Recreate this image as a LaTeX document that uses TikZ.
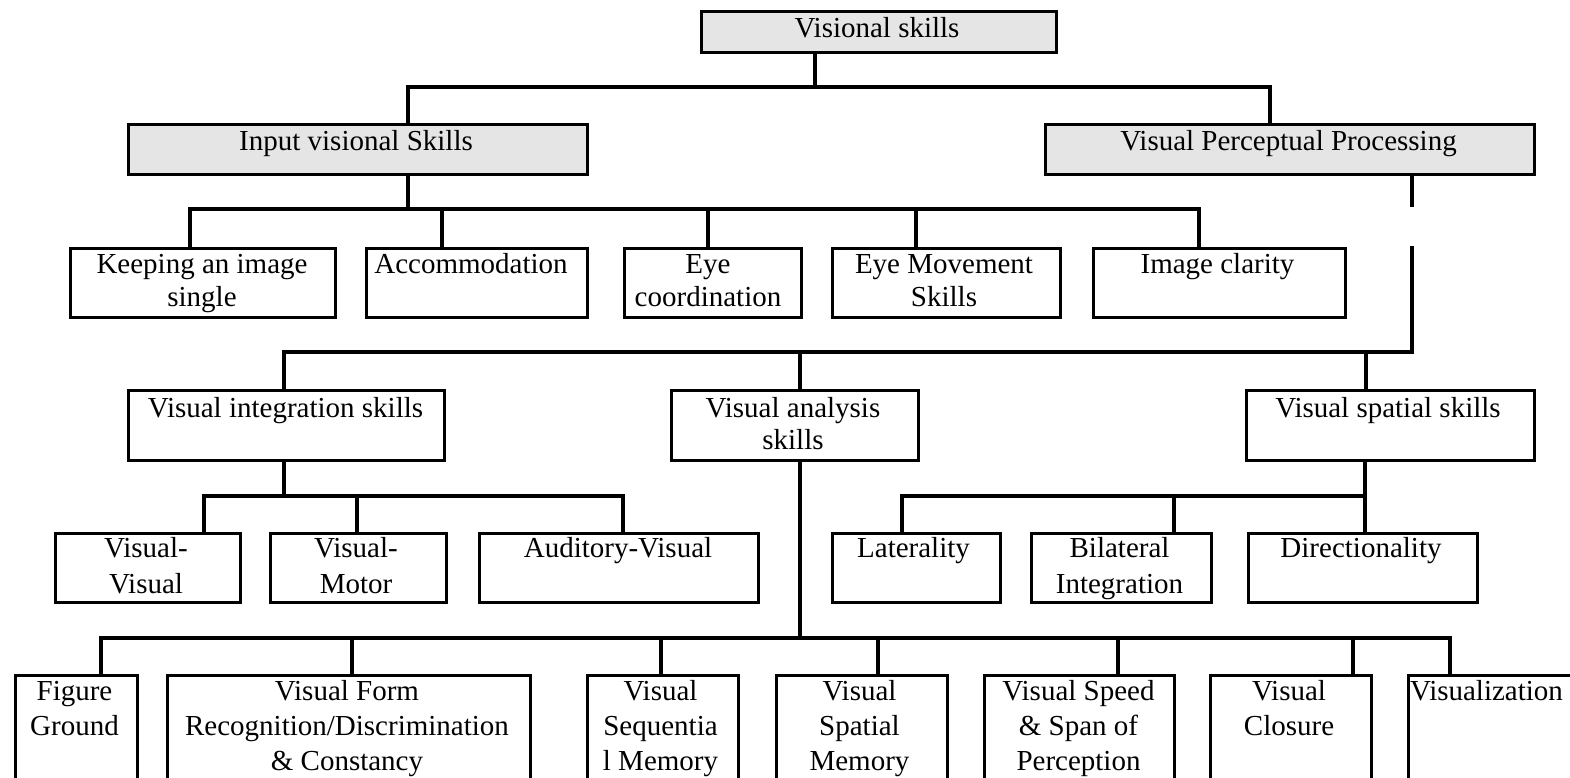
\documentclass[tikz,border=0pt]{standalone}
\usepackage{fontspec}
\setmainfont{Liberation Serif}
\tikzset{
  skbox/.style={draw=black, line width=3.3pt, inner sep=0pt, anchor=north west, rectangle},
  skgray/.style={skbox, fill=black!10},
  lbl/.style={inner sep=0pt, anchor=base},
  conn/.style={line width=3.3pt},
}
\newcommand\skb[6][skbox]{\node[#1, minimum width=#5pt-#3pt, minimum height=#6pt-#4pt] (#2) at (#3,#4) {};}
\newcommand\skt[5]{\node[lbl, font=\fontsize{29}{#4}\selectfont] (#1) at (#2,#3) {\begin{tabular}[t]{@{}c@{}}#5\end{tabular}};}
\begin{document}
\begin{tikzpicture}[x=1pt,y=-1pt]
\useasboundingbox (0,0) rectangle (1570,778);
\clip (0,0) rectangle (1570,778);
\fill[white] (0,0) rectangle (1570,778);

% level 0 and 1
\skb[skgray]{vs}{700}{10}{1055}{51}
\skt{vs-t}{877}{38}{33}{Visional skills}
\skb[skgray]{ivs}{127}{123}{586}{173}
\skt{ivs-t}{356}{151}{33}{Input visional Skills}
\skb[skgray]{vpp}{1044}{123}{1533}{173}
\skt{vpp-t}{1288.5}{151}{33}{Visual Perceptual Processing}

% row 2
\skb{kp}{69}{247}{334}{316}
\skt{kp-t}{202}{273}{33}{Keeping an image\\single}
\skb{acc}{365}{247}{586}{316}
\skt{acc-t}{471}{273}{33}{Accommodation}
\skb{eyc}{623}{247}{800}{316}
\skt{eyc-t}{708}{273}{33}{Eye\\coordination}
\skb{eym}{831}{247}{1059}{316}
\skt{eym-t}{944}{273}{33}{Eye Movement\\Skills}
\skb{icl}{1092}{247}{1344}{316}
\skt{icl-t}{1217.5}{273}{33}{Image clarity}

% row 3
\skb{vint}{127}{389}{443}{459}
\skt{vint-t}{285.5}{417}{32}{Visual integration skills}
\skb{vana}{670}{389}{917}{459}
\skt{vana-t}{793}{417}{32}{Visual analysis\\skills}
\skb{vspa}{1245}{389}{1533}{459}
\skt{vspa-t}{1388}{417}{32}{Visual spatial skills}

% row 4
\skb{vv}{54}{532}{239}{601}
\skt{vv-t}{146}{557}{36}{Visual-\\Visual}
\skb{vm}{269}{532}{445}{601}
\skt{vm-t}{356}{557}{36}{Visual-\\Motor}
\skb{av}{478}{532}{757}{601}
\skt{av-t}{618}{557}{36}{Auditory-Visual}
\skb{lat}{831}{532}{999}{601}
\skt{lat-t}{913.5}{557}{36}{Laterality}
\skb{bil}{1030}{532}{1210}{601}
\skt{bil-t}{1119.5}{557}{36}{Bilateral\\Integration}
\skb{dir}{1247}{532}{1476}{601}
\skt{dir-t}{1361}{557}{36}{Directionality}

% row 5
\skb{fg}{14}{674}{136}{800}
\skt{fg-t}{74.5}{700}{35}{Figure\\Ground}
\skb{vf}{166}{674}{529}{800}
\skt{vf-t}{347}{700}{35}{Visual Form\\Recognition/Discrimination\\\& Constancy}
\skb{vsq}{586}{674}{737}{800}
\skt{vsq-t}{660.5}{700}{35}{Visual\\Sequentia\\l Memory}
\skb{vsm}{775}{674}{946}{800}
\skt{vsm-t}{859.5}{700}{35}{Visual\\Spatial\\Memory}
\skb{vsp}{983}{674}{1173}{800}
\skt{vsp-t}{1078.5}{700}{35}{Visual Speed\\\& Span of\\Perception}
\skb{vcl}{1209}{674}{1370}{800}
\skt{vcl-t}{1289}{700}{35}{Visual\\Closure}
\skb{vz}{1407}{674}{1590}{800}
\skt{vz-t}{1486.5}{700}{35}{Visualization}

% junction coordinates
\coordinate (j0) at (815,87);
\coordinate (j0l) at (408,87);
\coordinate (j0r) at (1270,87);
\coordinate (j1) at (408,209);
\coordinate (j1a) at (190,209);
\coordinate (j1b) at (442,209);
\coordinate (j1c) at (708,209);
\coordinate (j1d) at (916,209);
\coordinate (j1e) at (1199,209);
\coordinate (g1) at (1412,207);
\coordinate (g2) at (1412,246);
\coordinate (j2) at (1412,352);
\coordinate (j2a) at (284,352);
\coordinate (j2b) at (800,352);
\coordinate (j2c) at (1366,352);
\coordinate (j3) at (284,496);
\coordinate (j3a) at (204,496);
\coordinate (j3b) at (357,496);
\coordinate (j3c) at (623,496);
\coordinate (j4) at (1365,496);
\coordinate (j4a) at (902,496);
\coordinate (j4b) at (1174,496);
\coordinate (j5) at (800,638);
\coordinate (j5a) at (101,638);
\coordinate (j5b) at (352,638);
\coordinate (j5c) at (661,638);
\coordinate (j5d) at (878,638);
\coordinate (j5e) at (1118,638);
\coordinate (j5f) at (1353,638);
\coordinate (j5g) at (1450,638);

% connectors
\draw[conn] (vs.south -| j0) -- (j0);
\draw[conn] (ivs.north -| j0l) -- (j0l) -- (j0r) -- (vpp.north -| j0r);

\draw[conn] (ivs.south -| j1) -- (j1);
\draw[conn] (kp.north -| j1a) -- (j1a) -- (j1e) -- (icl.north -| j1e);
\draw[conn] (j1b) -- (acc.north -| j1b);
\draw[conn] (j1c) -- (eyc.north -| j1c);
\draw[conn] (j1d) -- (eym.north -| j1d);

\draw[conn] (vpp.south -| g1) -- (g1);
\draw[conn] (g2) -- (j2) -- (j2a) -- (vint.north -| j2a);
\draw[conn] (j2b) -- (vana.north -| j2b);
\draw[conn] (j2c) -- (vspa.north -| j2c);

\draw[conn] (vint.south -| j3) -- (j3);
\draw[conn] (vv.north -| j3a) -- (j3a) -- (j3c) -- (av.north -| j3c);
\draw[conn] (j3b) -- (vm.north -| j3b);

\draw[conn] (vspa.south -| j4) -- (dir.north -| j4);
\draw[conn] (lat.north -| j4a) -- (j4a) -- (j4);
\draw[conn] (j4b) -- (bil.north -| j4b);

\draw[conn] (vana.south -| j5) -- (j5);
\draw[conn] (fg.north -| j5a) -- (j5a) -- (j5g) -- (vz.north -| j5g);
\draw[conn] (j5b) -- (vf.north -| j5b);
\draw[conn] (j5c) -- (vsq.north -| j5c);
\draw[conn] (j5d) -- (vsm.north -| j5d);
\draw[conn] (j5e) -- (vsp.north -| j5e);
\draw[conn] (j5f) -- (vcl.north -| j5f);
\end{tikzpicture}
\end{document}
